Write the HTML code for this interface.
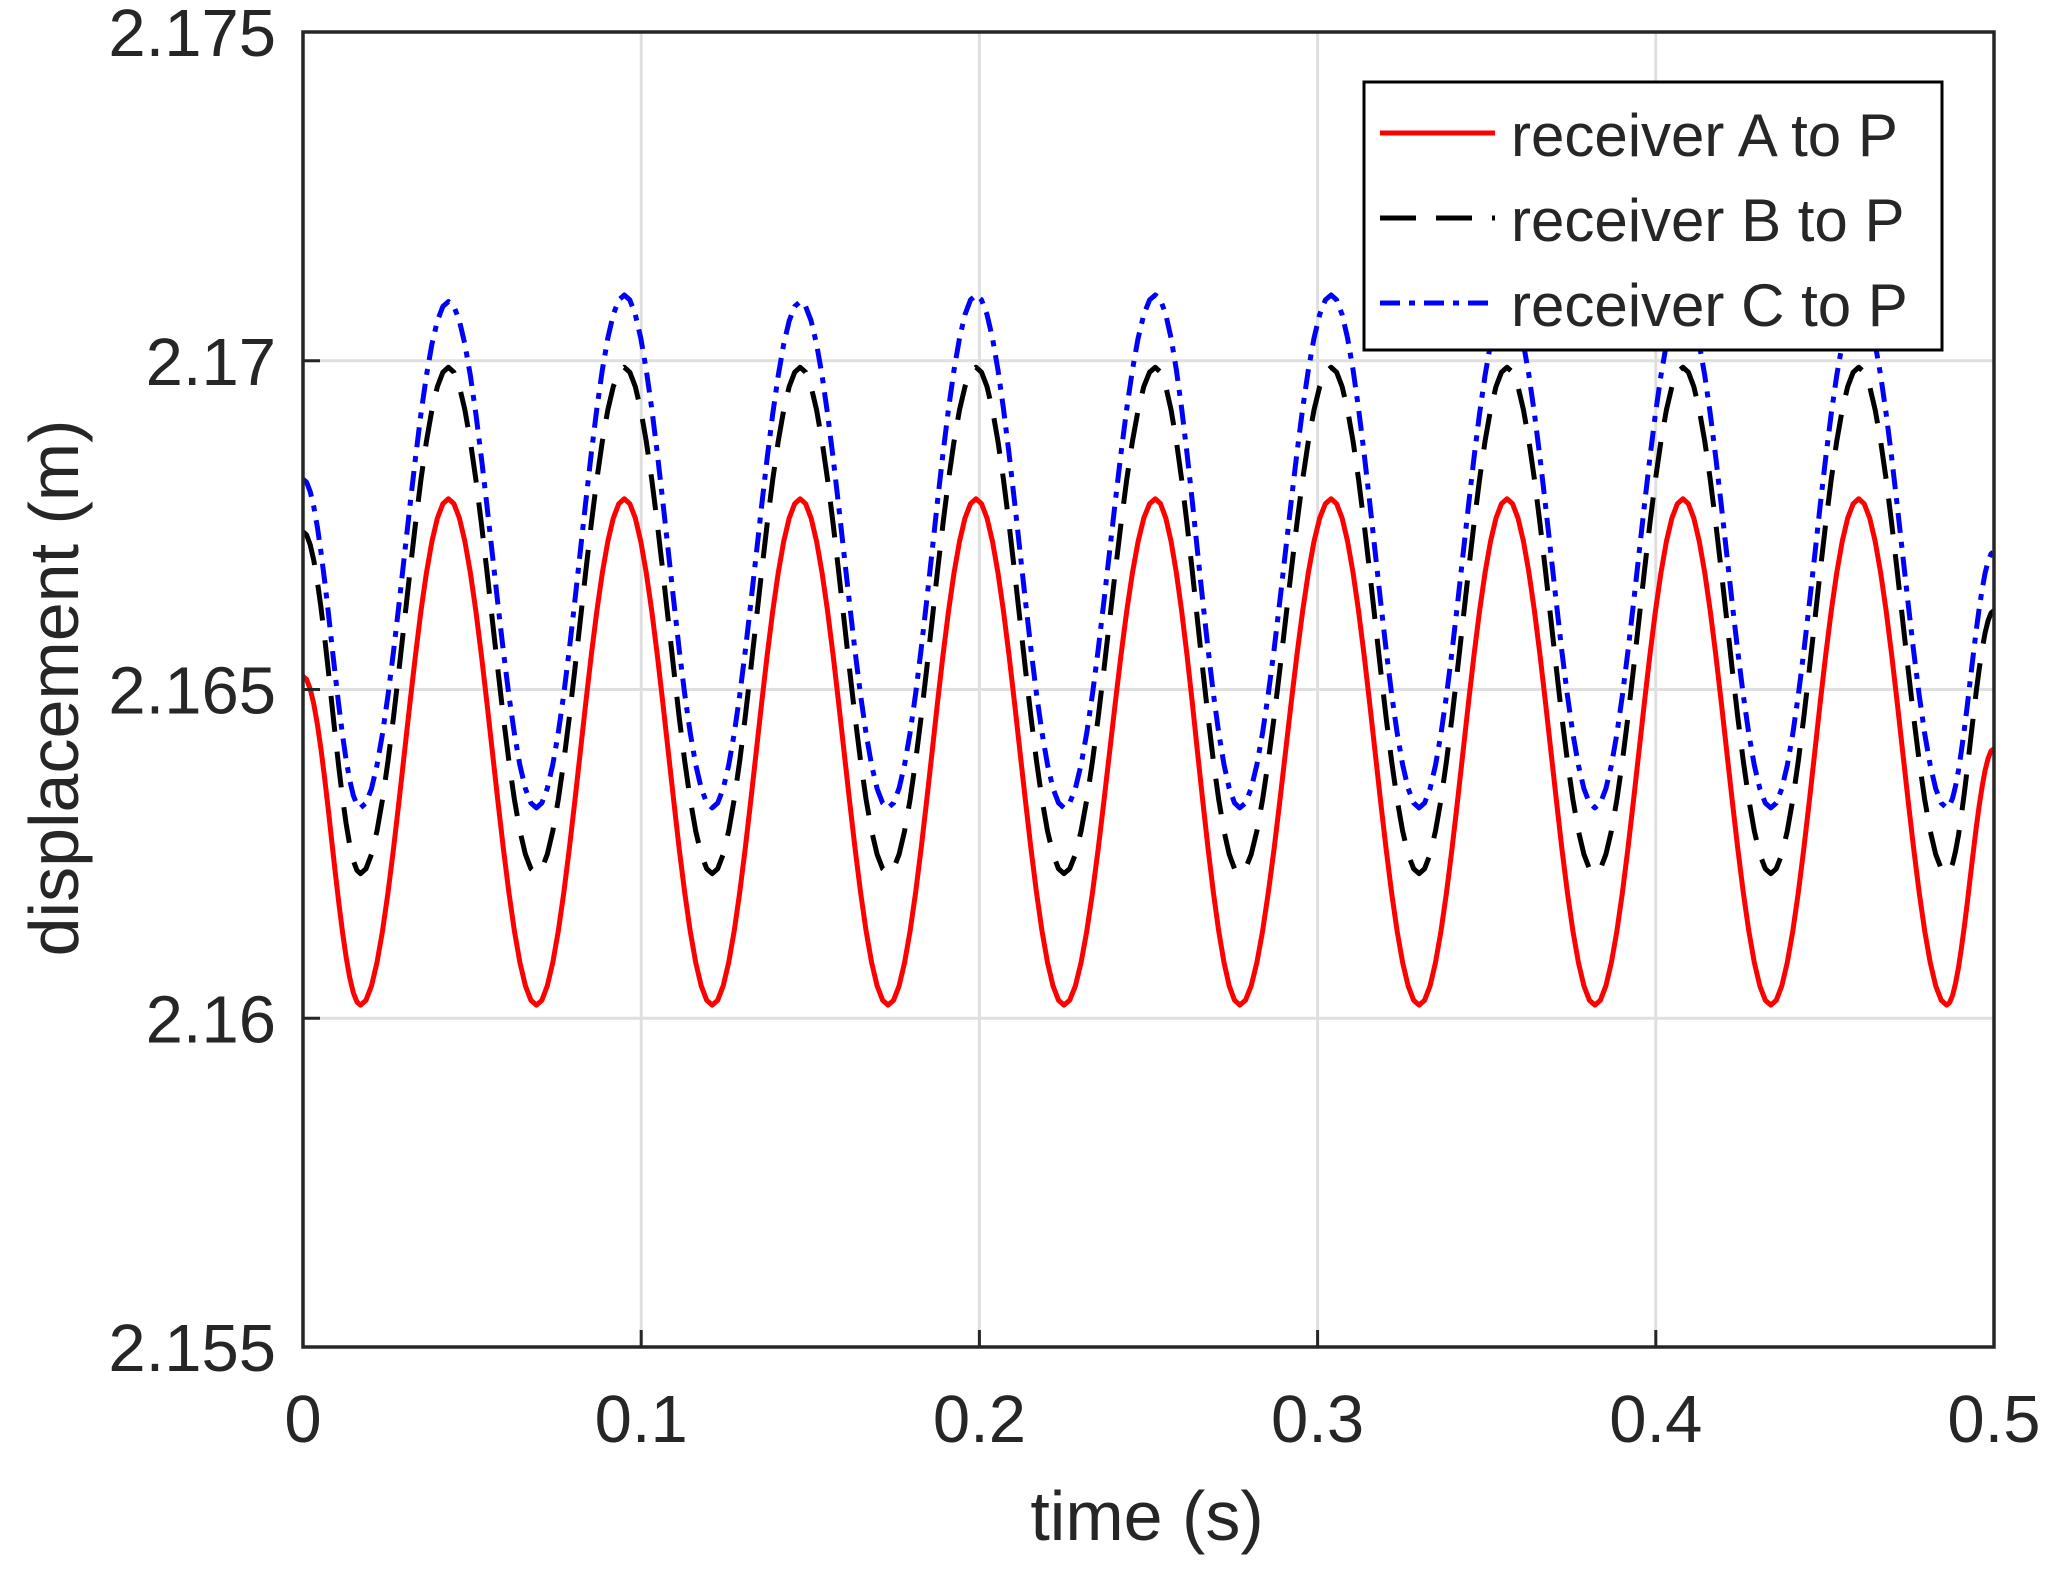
<!DOCTYPE html>
<html><head><meta charset="utf-8"><style>
html,body{margin:0;padding:0;background:#fff;}
svg text{font-family:"Liberation Sans",Arial,sans-serif;fill:#262626;}
</style></head><body>
<svg id="chart" width="2049" height="1571" viewBox="0 0 2049 1571" xmlns="http://www.w3.org/2000/svg">
<rect x="0" y="0" width="2049" height="1571" fill="#fff"/>
<g id="grid"></g>
<g id="series"></g>
<g id="axes"></g>
<text x="1147" y="1540" font-size="70" text-anchor="middle">time (s)</text>
<text transform="translate(78,688) rotate(-90)" font-size="70" text-anchor="middle">displacement (m)</text>
<g id="legend">
<rect x="1364" y="82" width="578" height="268" fill="#fff" stroke="#000" stroke-width="3"/>
<line x1="1380" y1="133" x2="1495" y2="133" stroke="#ff0000" stroke-width="5"/>
<text x="1511" y="156" font-size="60" fill="#000">receiver A to P</text>
<line x1="1380" y1="218" x2="1495" y2="218" stroke="#000" stroke-width="5" stroke-dasharray="36,20"/>
<text x="1511" y="241" font-size="60" fill="#000">receiver B to P</text>
<line x1="1380" y1="303" x2="1495" y2="303" stroke="#0000ff" stroke-width="5" stroke-dasharray="20,9,6,9"/>
<text x="1511" y="326" font-size="60" fill="#000">receiver C to P</text>
</g>
</svg>
<script>
const xTicks=[0,0.1,0.2,0.3,0.4,0.5];
const xTickLabels=["0","0.1","0.2","0.3","0.4","0.5"];
const yTicks=[2.155,2.16,2.165,2.17,2.175];
const yTickLabels=["2.155","2.16","2.165","2.17","2.175"];
// extrema times (start, troughs/peaks alternating, end)
const extremaTimes=[0,0.017,0.043,0.069,0.095,0.121,0.147,0.173,0.199,0.225,0.252,0.277,0.304,0.330,0.356,0.382,0.408,0.434,0.460,0.486,0.5];
const seriesA=[2.1652,2.1602,2.1679,2.1602,2.1679,2.1602,2.1679,2.1602,2.1679,2.1602,2.1679,2.1602,2.1679,2.1602,2.1679,2.1602,2.1679,2.1602,2.1679,2.1602,2.1641];
const seriesB=[2.1674,2.1622,2.1699,2.1622,2.1699,2.1622,2.1699,2.1622,2.1699,2.1622,2.1699,2.1622,2.1699,2.1622,2.1699,2.1622,2.1699,2.1622,2.1699,2.1622,2.1662];
const seriesC=[2.1682,2.1632,2.1709,2.1632,2.1710,2.1632,2.1709,2.1632,2.1710,2.1632,2.1710,2.1632,2.1710,2.1632,2.1709,2.1632,2.1709,2.1632,2.1709,2.1632,2.1671];

const L=303,R=1994,T=32,B=1347;
const xMin=0,xMax=0.5,yMin=2.155,yMax=2.175;
function xs(v){return L+(v-xMin)/(xMax-xMin)*(R-L);}
function ys(v){return B-(v-yMin)/(yMax-yMin)*(B-T);}
const NS="http://www.w3.org/2000/svg";
function mk(tag,attrs,parent){const e=document.createElementNS(NS,tag);for(const k in attrs)e.setAttribute(k,attrs[k]);parent.appendChild(e);return e;}
const grid=document.getElementById('grid'),axes=document.getElementById('axes'),ser=document.getElementById('series');
xTicks.forEach((t,i)=>{
  const x=xs(t);
  if(i>0&&i<xTicks.length-1){const g=mk('line',{x1:x,y1:T,x2:x,y2:B,stroke:'#dfdfdf','stroke-width':3},grid);
  
  }
  const tk=mk('line',{x1:x,y1:B,x2:x,y2:B-17,stroke:'#262626','stroke-width':3},axes);
  
  
  const tx=mk('text',{x:x,y:1442,'font-size':67,'text-anchor':'middle'},axes);
  tx.textContent=xTickLabels[i];
  
  
});
yTicks.forEach((t,i)=>{
  const y=ys(t);
  if(i>0&&i<yTicks.length-1){const g=mk('line',{x1:L,y1:y,x2:R,y2:y,stroke:'#dfdfdf','stroke-width':3},grid);
  
  }
  const tk=mk('line',{x1:L,y1:y,x2:L+17,y2:y,stroke:'#262626','stroke-width':3},axes);
  
  
  const tx=mk('text',{x:276,y:y+24,'font-size':67,'text-anchor':'end'},axes);
  tx.textContent=yTickLabels[i];
  
  
});
const box=mk('rect',{x:L,y:T,width:R-L,height:B-T,fill:'none',stroke:'#262626','stroke-width':3.5},axes);


function pathFor(vals){
  let d='M'+xs(extremaTimes[0]).toFixed(1)+','+ys(vals[0]).toFixed(1);
  for(let i=0;i<extremaTimes.length-1;i++){
    const t0=extremaTimes[i],t1=extremaTimes[i+1],v0=vals[i],v1=vals[i+1];
    for(let k=1;k<=16;k++){const f=k/16;const w=(1-Math.cos(Math.PI*f))/2;
      d+=' L'+xs(t0+(t1-t0)*f).toFixed(1)+','+ys(v0+(v1-v0)*w).toFixed(1);}
  }
  return d;
}
const defs=[[seriesA,'#ff0000','none','series-a-line'],[seriesB,'#000','36,20','series-b-line'],[seriesC,'#0000ff','20,9,6,9','series-c-line']];
defs.forEach(s=>{
  const p=mk('path',{d:pathFor(s[0]),fill:'none',stroke:s[1],'stroke-width':5,'stroke-dasharray':s[2],'stroke-linejoin':'round'},ser);
  
  
});
</script>
</body></html>
